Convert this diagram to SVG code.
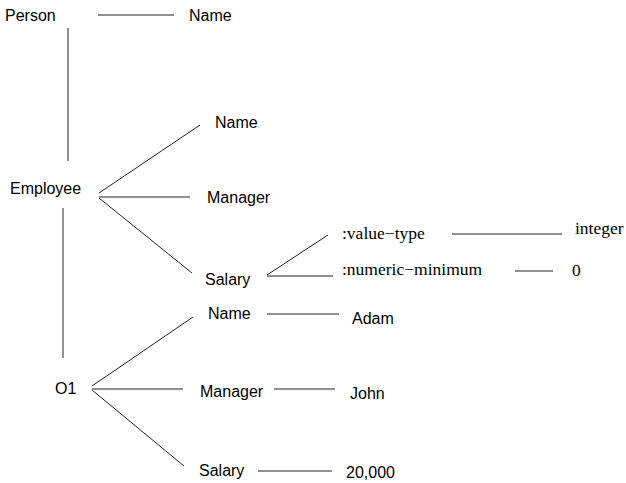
<svg xmlns="http://www.w3.org/2000/svg" width="626" height="483" viewBox="0 0 626 483">
<style>
.s{font-family:"Liberation Sans",Arial,sans-serif;font-size:16px;fill:#000}
.t{font-family:"Liberation Serif","Times New Roman",serif;font-size:17.5px;fill:#000}
line{stroke:#222;stroke-width:1}
</style>
<rect width="626" height="483" fill="#fff"/>
<g id="connectors">
<line x1="98" y1="15" x2="174" y2="15"/>
<line x1="68" y1="28" x2="68" y2="161"/>
<line x1="99" y1="193" x2="200" y2="125"/>
<line x1="99" y1="197" x2="190" y2="197"/>
<line x1="99" y1="198" x2="192" y2="273"/>
<line x1="63" y1="208" x2="63" y2="358"/>
<line x1="267" y1="275" x2="328" y2="235"/>
<line x1="267" y1="276" x2="333" y2="276"/>
<line x1="452" y1="234" x2="562" y2="234"/>
<line x1="515" y1="271" x2="553" y2="271"/>
<line x1="92" y1="386" x2="193" y2="317"/>
<line x1="92" y1="389" x2="183" y2="389"/>
<line x1="92" y1="390" x2="184" y2="466"/>
<line x1="267" y1="314" x2="339" y2="314"/>
<line x1="274" y1="389" x2="335" y2="389"/>
<line x1="258" y1="471" x2="332" y2="471"/>
</g>
<g id="person"><text class="s" x="5" y="21">Person</text></g>
<g id="person-name"><text class="s" x="189" y="21">Name</text></g>
<g id="employee"><text class="s" x="10" y="194">Employee</text></g>
<g id="emp-name"><text class="s" x="215" y="128">Name</text></g>
<g id="emp-manager"><text class="s" x="207" y="203">Manager</text></g>
<g id="emp-salary"><text class="s" x="205" y="285">Salary</text></g>
<g id="value-type"><text class="t" x="342" y="239">:value−type</text></g>
<g id="integer"><text class="t" x="575" y="234">integer</text></g>
<g id="numeric-minimum"><text class="t" x="342" y="275">:numeric−minimum</text></g>
<g id="zero"><text class="t" x="572" y="276">0</text></g>
<g id="o1"><text class="s" x="55" y="394">O1</text></g>
<g id="o1-name"><text class="s" x="208" y="319">Name</text></g>
<g id="adam"><text class="s" x="352" y="324">Adam</text></g>
<g id="o1-manager"><text class="s" x="200" y="397">Manager</text></g>
<g id="john"><text class="s" x="350" y="399">John</text></g>
<g id="o1-salary"><text class="s" x="199" y="476">Salary</text></g>
<g id="salary-value"><text class="s" x="346" y="478">20,000</text></g>
</svg>
